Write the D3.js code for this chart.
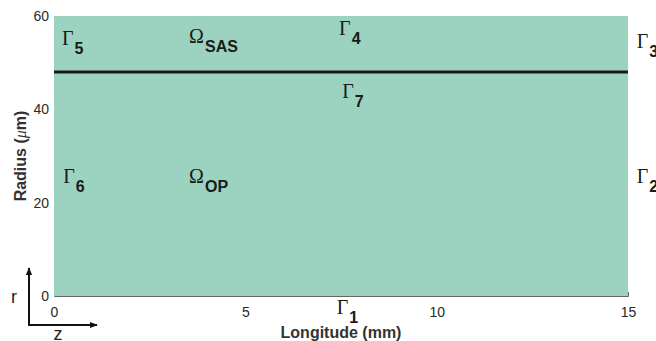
<!DOCTYPE html>
<html>
<head>
<meta charset="utf-8">
<script src="https://cdn.jsdelivr.net/npm/d3@7"></script>
<style>
  body { margin: 0; background: #fff; }
  svg { display: block; }
</style>
</head>
<body>
<div id="vis"></div>
<script>
// Domain of the model (mm along the vessel, um across it)
var xDomain = [0, 15];
var yDomain = [0, 60];
var xTicks = [0, 5, 10, 15];
var yTicks = [0, 20, 40, 60];

// Interface between the two subdomains
var interfaceRadius = [48];

// Boundary / region labels: letter, subscript, position in data units
var labelSymbols = ['\u0393', '\u0393', '\u0393', '\u0393', '\u0393', '\u0393', '\u0393', '\u03A9', '\u03A9'];
var labelSubs = ['1', '2', '3', '4', '5', '6', '7', 'SAS', 'OP'];
var labelX = [7.39, 15.23, 15.23, 7.45, 0.21, 0.24, 7.53, 3.53, 3.53];
var labelY = [-3.9, 24.2, 53.1, 55.9, 53.8, 24.2, 42.4, 54.2, 24.2];

var width = 656;
var height = 341;
var margin = { top: 16, right: 28, bottom: 45, left: 54 };

var svg = d3.select('#vis').append('svg')
  .attr('width', width)
  .attr('height', height);

var x = d3.scaleLinear().domain(xDomain).range([margin.left, width - margin.right]);
var y = d3.scaleLinear().domain(yDomain).range([height - margin.bottom, margin.top]);

// bottom axis goes first so the patch hides the inner ticks
var xAxis = svg.append('g')
  .attr('transform', 'translate(0,' + y(0) + ')')
  .call(d3.axisBottom(x).tickValues(xTicks).tickSize(-4).tickPadding(11));
xAxis.selectAll('path, line').attr('stroke', '#666');
xAxis.selectAll('text')
  .attr('fill', '#2a2a2a')
  .style('font', '14px "Liberation Sans", Arial, sans-serif');

var yAxis = svg.append('g')
  .attr('transform', 'translate(' + x(0) + ',0)')
  .call(d3.axisLeft(y).tickValues(yTicks).tickSize(0).tickPadding(5));
yAxis.select('.domain').remove();
yAxis.selectAll('text')
  .attr('fill', '#2a2a2a')
  .style('font', '14px "Liberation Sans", Arial, sans-serif');

// the fluid domain
svg.append('rect')
  .attr('x', x(xDomain[0]))
  .attr('y', y(yDomain[1]))
  .attr('width', x(xDomain[1]) - x(xDomain[0]))
  .attr('height', y(yDomain[0]) - y(yDomain[1]))
  .attr('fill', '#9bd3c0');

// interface line
svg.selectAll('.iface')
  .data(interfaceRadius)
  .enter().append('line')
  .attr('class', 'iface')
  .attr('x1', x(xDomain[0]))
  .attr('x2', x(xDomain[1]))
  .attr('y1', function (d) { return y(d); })
  .attr('y2', function (d) { return y(d); })
  .attr('stroke', '#1a1a1a')
  .attr('stroke-width', 3);

// labels
var labels = labelSubs.map(function (s, i) {
  return { sym: labelSymbols[i], sub: s, x: labelX[i], y: labelY[i] };
});

var lab = svg.selectAll('.lab')
  .data(labels)
  .enter().append('text')
  .attr('class', 'lab')
  .attr('x', function (d) { return x(d.x); })
  .attr('y', function (d) { return y(d.y); })
  .attr('fill', '#1a1a1a');
lab.append('tspan')
  .style('font', '20px "Liberation Serif", "Times New Roman", serif')
  .text(function (d) { return d.sym; });
lab.append('tspan')
  .attr('dx', 1)
  .attr('dy', 9)
  .style('font', 'bold 16px "Liberation Sans", Arial, sans-serif')
  .text(function (d) { return d.sub; });

// axis titles
svg.append('text')
  .attr('x', (margin.left + width - margin.right) / 2)
  .attr('y', height - 3)
  .attr('text-anchor', 'middle')
  .attr('fill', '#333')
  .style('font', 'bold 16px "Liberation Sans", Arial, sans-serif')
  .text('Longitude (mm)');

var yt = svg.append('text')
  .attr('transform', 'translate(26,' + (margin.top + height - margin.bottom) / 2 + ') rotate(-90)')
  .attr('text-anchor', 'middle')
  .attr('fill', '#333')
  .style('font', 'bold 16px "Liberation Sans", Arial, sans-serif');
yt.append('tspan').text('Radius (');
yt.append('tspan')
  .style('font', 'italic 16px "Liberation Serif", serif')
  .text('\u03BC');
yt.append('tspan').text('m)');

// r / z orientation arrows
var ax0 = 29, ay0 = 325;
var defs = svg.append('defs');
defs.append('marker')
  .attr('id', 'arr')
  .attr('viewBox', '0 0 10 10')
  .attr('refX', 9).attr('refY', 5)
  .attr('markerWidth', 8).attr('markerHeight', 8)
  .attr('markerUnits', 'userSpaceOnUse')
  .attr('orient', 'auto')
  .append('path')
  .attr('d', 'M0,1L10,5L0,9Z')
  .attr('fill', '#111');

svg.append('line')
  .attr('x1', ax0).attr('y1', ay0 + 1)
  .attr('x2', ax0).attr('y2', 268)
  .attr('stroke', '#111').attr('stroke-width', 2)
  .attr('marker-end', 'url(#arr)');
svg.append('line')
  .attr('x1', ax0 - 1).attr('y1', ay0)
  .attr('x2', 97).attr('y2', ay0)
  .attr('stroke', '#111').attr('stroke-width', 2)
  .attr('marker-end', 'url(#arr)');

svg.append('text')
  .attr('x', 14).attr('y', 303)
  .attr('text-anchor', 'middle')
  .attr('fill', '#222')
  .style('font', '18px "Liberation Sans", Arial, sans-serif')
  .text('r');
svg.append('text')
  .attr('x', 58).attr('y', 340)
  .attr('text-anchor', 'middle')
  .attr('fill', '#222')
  .style('font', '18px "Liberation Sans", Arial, sans-serif')
  .text('z');
</script>
</body>
</html>
